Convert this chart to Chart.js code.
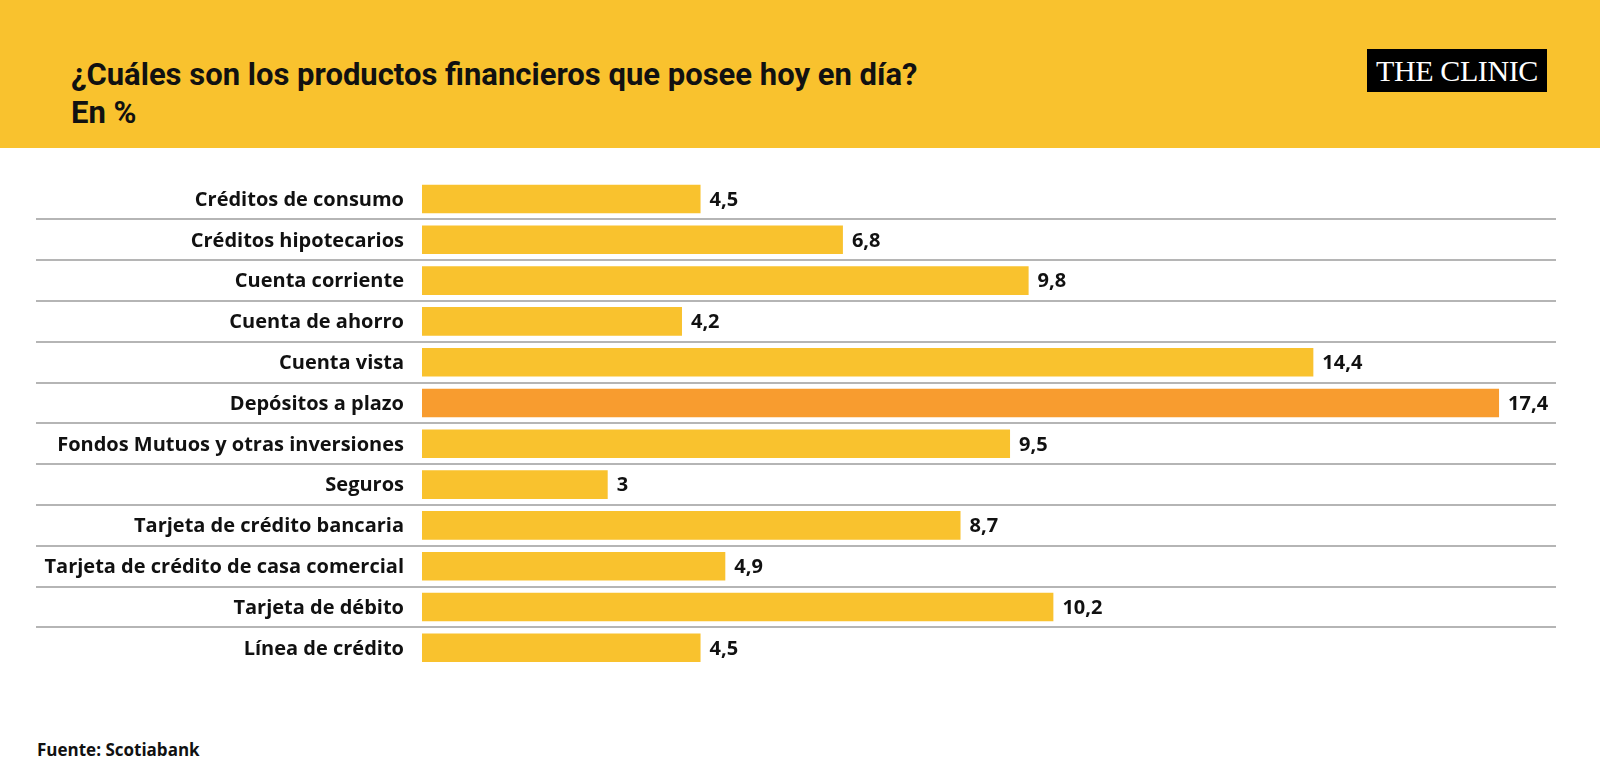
<!DOCTYPE html>
<html lang="es">
<head>
<meta charset="utf-8">
<title>Productos financieros</title>
<script src="https://cdn.jsdelivr.net/npm/chart.js@4.4.1/dist/chart.umd.min.js"></script>
<style>
    html, body { margin: 0; padding: 0; background: #fff; }
    body { width: 1600px; height: 779px; position: relative; overflow: hidden; font-family: Roboto, sans-serif; color: #111; }
    #header { position: absolute; left: 0; top: 0; width: 1600px; height: 148px; background: #F9C22E; }
    #title { position: absolute; left: 71px; top: 56px; font-weight: bold; font-size: 31px; line-height: 38px; }
    #logo { position: absolute; left: 1367px; top: 49px; width: 180px; height: 43px; background: #000; color: #fff;
            font-family: "Liberation Serif", serif; font-size: 30px; line-height: 43px; text-align: center; letter-spacing: -0.4px; }
    #source { position: absolute; left: 37px; top: 738px; font-family: "Open Sans", sans-serif; font-weight: bold; font-size: 17px; }
    #chartBox { position: absolute; left: 0; top: 0; width: 1600px; height: 779px; }
</style>
</head>
<body>
<div id="header">
    <div id="title">¿Cuáles son los productos financieros que posee hoy en día?<br>En %</div>
    <div id="logo">THE CLINIC</div>
</div>
<div id="source">Fuente: Scotiabank</div>
<div id="chartBox"><canvas id="chart" width="1600" height="779"></canvas></div>

<script>
// Data
const categories = [
    'Créditos de consumo',
    'Créditos hipotecarios',
    'Cuenta corriente',
    'Cuenta de ahorro',
    'Cuenta vista',
    'Depósitos a plazo',
    'Fondos Mutuos y otras inversiones',
    'Seguros',
    'Tarjeta de crédito bancaria',
    'Tarjeta de crédito de casa comercial',
    'Tarjeta de débito',
    'Línea de crédito'
];
const values = [4.5, 6.8, 9.8, 4.2, 14.4, 17.4, 9.5, 3, 8.7, 4.9, 10.2, 4.5];
const highlighted = 'Depósitos a plazo';
const xMax = 18.32;

const yellow = '#F9C22E';
const orange = '#F89C2F';

// Spanish decimal comma
function formatValue(v) {
    return String(v).replace('.', ',');
}

// Draw the value next to the end of each bar
const valueLabels = {
    id: 'valueLabels',
    afterDatasetsDraw(chart) {
        const ctx = chart.ctx;
        const meta = chart.getDatasetMeta(0);
        ctx.save();
        ctx.font = 'bold 20px "Open Sans"';
        ctx.fillStyle = '#111';
        ctx.textBaseline = 'middle';
        ctx.textAlign = 'left';
        meta.data.forEach((bar, i) => {
            ctx.fillText(formatValue(values[i]), bar.x + 9, bar.y + 1);
        });
        ctx.restore();
    }
};

const ctx = document.getElementById('chart').getContext('2d');
new Chart(ctx, {
    type: 'bar',
    data: {
        labels: categories,
        datasets: [{
            data: values,
            backgroundColor: categories.map(c => c === highlighted ? orange : yellow),
            borderWidth: 0,
            barPercentage: 0.7,
            categoryPercentage: 1
        }]
    },
    options: {
        indexAxis: 'y',
        responsive: false,
        animation: false,
        layout: { padding: { top: 178.6, bottom: 110.8, left: 0, right: 44 } },
        scales: {
            x: { display: false, min: 0, max: xMax },
            y: {
                afterFit: scale => { scale.width = 422; },
                border: { display: false },
                grid: {
                    offset: true,
                    lineWidth: 2,
                    tickLength: 386,
                    // only the lines between rows, not the outer two
                    color: c => (c.type !== 'tick' || c.index === 0) ? 'rgba(0,0,0,0)' : '#B5B5B5'
                },
                ticks: {
                    padding: -368,
                    labelOffset: 1,
                    color: '#111',
                    font: { family: 'Open Sans', weight: 'bold', size: 20 }
                }
            }
        },
        plugins: {
            legend: { display: false },
            tooltip: { enabled: false }
        }
    },
    plugins: [valueLabels]
});
</script>
</body>
</html>
